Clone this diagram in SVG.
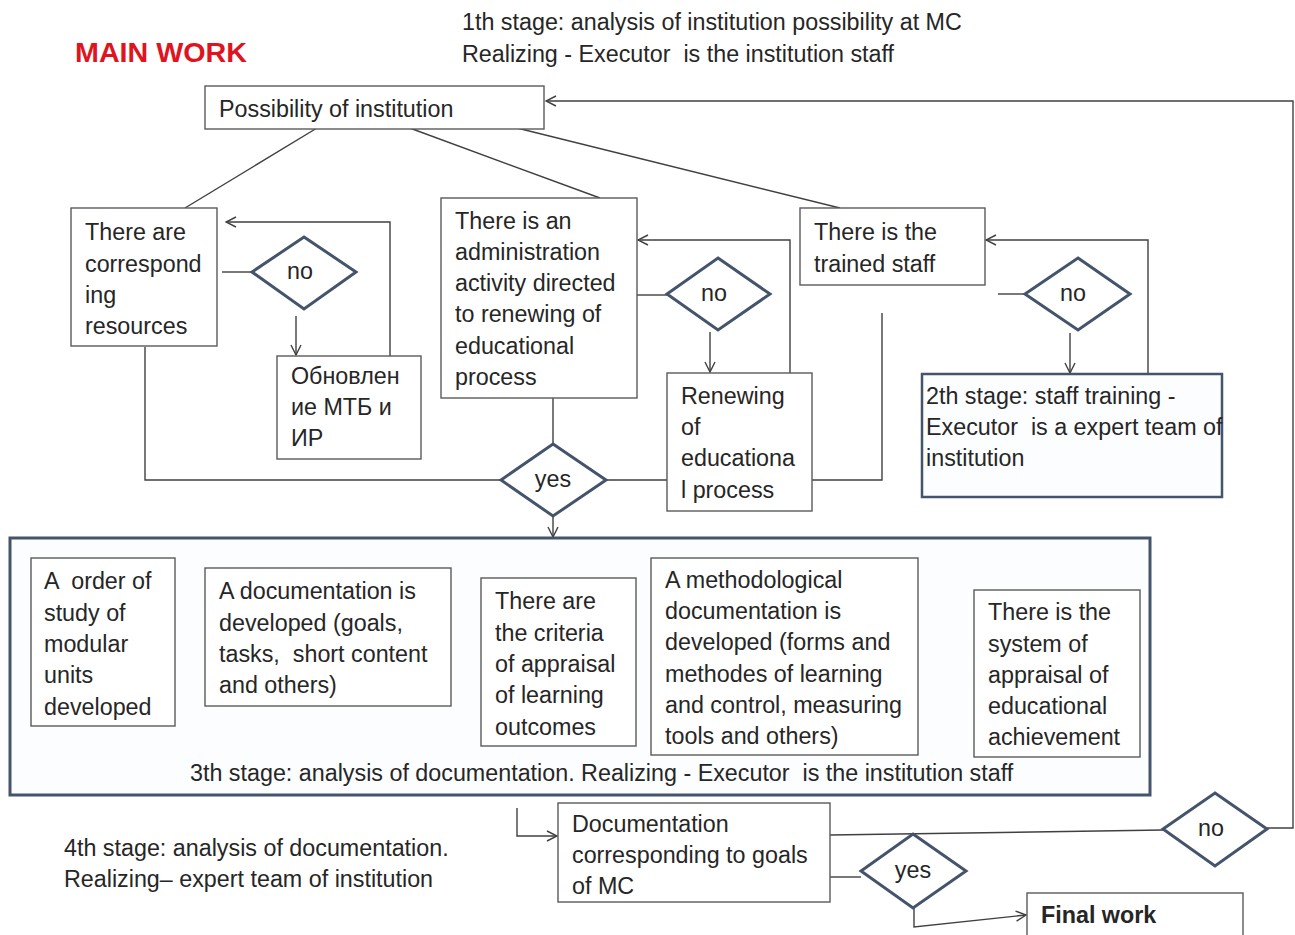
<svg xmlns="http://www.w3.org/2000/svg" width="1295" height="935" viewBox="0 0 1295 935">
<defs>
<style>
text{font-family:"Liberation Sans",Arial,sans-serif;font-size:23.3px;fill:#262626;white-space:pre}
.box{fill:#fff;stroke:#5a5a5a;stroke-width:1.4}
.dia{fill:#fff;stroke:#44546a;stroke-width:3}
.stage{fill:#fcfdff;stroke:#44546a;stroke-width:3}
.con{fill:none;stroke:#404040;stroke-width:1.4}
.title{font-weight:bold;fill:#e0141e;font-size:27px}
.ctr{text-anchor:middle}
</style>
<marker id="arr" viewBox="0 0 12 12" refX="11" refY="6" markerWidth="12" markerHeight="12" markerUnits="userSpaceOnUse" orient="auto">
<path d="M1,1 L11,6 L1,11" fill="none" stroke="#404040" stroke-width="1.4"/>
</marker>
</defs>
<rect width="1295" height="935" fill="#fff"/>

<g id="title"><text class="title" x="75" y="62" textLength="172" lengthAdjust="spacingAndGlyphs">MAIN WORK</text></g>
<g id="stage1-label">
<text x="462" y="30">1th stage: analysis of institution possibility at MC</text>
<text x="462" y="62">Realizing - Executor  is the institution staff</text>
</g>
<g id="stage4-label">
<text x="64" y="856">4th stage: analysis of documentation.</text>
<text x="64" y="887">Realizing– expert team of institution</text>
</g>

<g id="connectors">
<path class="con" d="M317,128 L185,208"/>
<path class="con" d="M407,127 L600,198"/>
<path class="con" d="M513,127 L840,208"/>
<path class="con" d="M222,272 L252,272"/>
<path class="con" d="M296,316 L296,355" marker-end="url(#arr)"/>
<path class="con" d="M390,356 L390,222 L226,222" marker-end="url(#arr)"/>
<path class="con" d="M145,347 L145,480 L501,480"/>
<path class="con" d="M553,393 L553,444"/>
<path class="con" d="M553,516 L553,537" marker-end="url(#arr)"/>
<path class="con" d="M637,295 L667,295"/>
<path class="con" d="M710,332 L710,372" marker-end="url(#arr)"/>
<path class="con" d="M790,373 L790,240 L638,240" marker-end="url(#arr)"/>
<path class="con" d="M882,313 L882,480 L606,480"/>
<path class="con" d="M998,294 L1025,294"/>
<path class="con" d="M1070,333 L1070,373" marker-end="url(#arr)"/>
<path class="con" d="M1148,374 L1148,240 L986,240" marker-end="url(#arr)"/>
<path class="con" d="M517,808 L517,836 L557,836" marker-end="url(#arr)"/>
<path class="con" d="M830,835 L1163,830"/>
<path class="con" d="M1267,828 L1293,828 L1293,101 L546,101" marker-end="url(#arr)"/>
<path class="con" d="M830,877 L861,877"/>
<path class="con" d="M914,897 L914,927 L1026,915" marker-end="url(#arr)"/>
</g>

<g id="possibility">
<rect class="box" x="205" y="86" width="339" height="43"/>
<text x="219" y="117">Possibility of institution</text>
</g>

<g id="resources">
<rect class="box" x="71" y="208" width="146" height="138"/>
<text x="85" y="240">There are</text>
<text x="85" y="272">correspond</text>
<text x="85" y="303">ing</text>
<text x="85" y="334">resources</text>
</g>
<g id="no1">
<polygon class="dia" points="304,237 356,272 304,309 252,272"/>
<text class="ctr" x="300" y="279">no</text>
</g>
<g id="renew-mtb">
<rect class="box" x="277" y="356" width="144" height="103"/>
<text x="291" y="384">Обновлен</text>
<text x="291" y="415">ие МТБ и</text>
<text x="291" y="446">ИР</text>
</g>

<g id="administration">
<rect class="box" x="441" y="198" width="196" height="200"/>
<text x="455" y="229">There is an</text>
<text x="455" y="260">administration</text>
<text x="455" y="291">activity directed</text>
<text x="455" y="322">to renewing of</text>
<text x="455" y="354">educational</text>
<text x="455" y="385">process</text>
</g>
<g id="no2">
<polygon class="dia" points="718,258 770,294 718,330 667,294"/>
<text class="ctr" x="714" y="301">no</text>
</g>
<g id="renew-process">
<rect class="box" x="667" y="373" width="145" height="138"/>
<text x="681" y="404">Renewing</text>
<text x="681" y="435">of</text>
<text x="681" y="466">educationa</text>
<text x="681" y="498">l process</text>
</g>

<g id="yes1">
<polygon class="dia" points="553,444 606,480 553,516 501,480"/>
<text class="ctr" x="553" y="487">yes</text>
</g>

<g id="trained-staff">
<rect class="box" x="800" y="208" width="185" height="77"/>
<text x="814" y="240">There is the</text>
<text x="814" y="272">trained staff</text>
</g>
<g id="no3">
<polygon class="dia" points="1078,258 1130,294 1078,330 1025,294"/>
<text class="ctr" x="1073" y="301">no</text>
</g>
<g id="stage2">
<rect class="stage" x="922" y="374" width="300" height="123" style="stroke-width:2.5"/>
<text x="926" y="404">2th stage: staff training -</text>
<text x="926" y="435">Executor  is a expert team of</text>
<text x="926" y="466">institution</text>
</g>

<g id="stage3">
<rect class="stage" x="10" y="538" width="1140" height="257"/>
<text x="190" y="781">3th stage: analysis of documentation. Realizing - Executor  is the institution staff</text>
</g>
<g id="order">
<rect class="box" x="31" y="558" width="144" height="168"/>
<text x="44" y="589">A  order of</text>
<text x="44" y="621">study of</text>
<text x="44" y="652">modular</text>
<text x="44" y="683">units</text>
<text x="44" y="715">developed</text>
</g>
<g id="documentation">
<rect class="box" x="205" y="568" width="246" height="138"/>
<text x="219" y="599">A documentation is</text>
<text x="219" y="631">developed (goals,</text>
<text x="219" y="662">tasks,  short content</text>
<text x="219" y="693">and others)</text>
</g>
<g id="criteria">
<rect class="box" x="481" y="578" width="155" height="168"/>
<text x="495" y="609">There are</text>
<text x="495" y="641">the criteria</text>
<text x="495" y="672">of appraisal</text>
<text x="495" y="703">of learning</text>
<text x="495" y="735">outcomes</text>
</g>
<g id="methodological">
<rect class="box" x="651" y="558" width="267" height="197"/>
<text x="665" y="588">A methodological</text>
<text x="665" y="619">documentation is</text>
<text x="665" y="650">developed (forms and</text>
<text x="665" y="682">methodes of learning</text>
<text x="665" y="713">and control, measuring</text>
<text x="665" y="744">tools and others)</text>
</g>
<g id="appraisal-system">
<rect class="box" x="974" y="590" width="166" height="167"/>
<text x="988" y="620">There is the</text>
<text x="988" y="652">system of</text>
<text x="988" y="683">appraisal of</text>
<text x="988" y="714">educational</text>
<text x="988" y="745">achievement</text>
</g>

<g id="doc-goals">
<rect class="box" x="558" y="803" width="272" height="99"/>
<text x="572" y="832">Documentation</text>
<text x="572" y="863">corresponding to goals</text>
<text x="572" y="894">of MC</text>
</g>
<g id="no4">
<polygon class="dia" points="1215,793 1267,829 1215,866 1163,829"/>
<text class="ctr" x="1211" y="836">no</text>
</g>
<g id="yes2">
<polygon class="dia" points="913,834 966,871 913,908 861,871"/>
<text class="ctr" x="913" y="878">yes</text>
</g>
<g id="final">
<rect class="box" x="1027" y="893" width="216" height="60"/>
<text x="1041" y="923" style="font-weight:bold">Final work</text>
</g>
</svg>
